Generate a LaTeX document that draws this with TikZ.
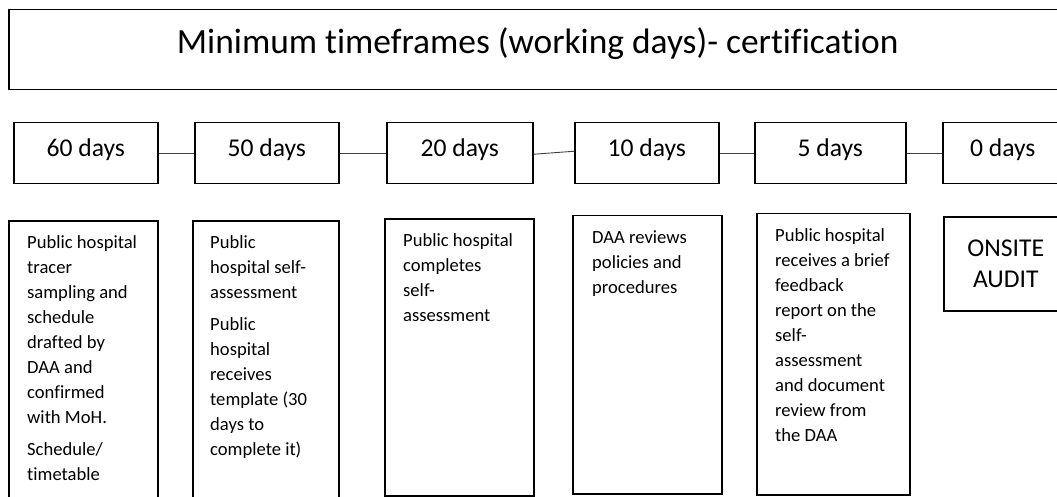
\documentclass[tikz,border=0pt]{standalone}
\usepackage{fontspec}
\setmainfont[Ligatures=NoCommon]{Carlito}
\begin{document}
\begin{tikzpicture}[x=1pt,y=-1pt,
  box/.style={draw=black, line width=1.5pt, rectangle, inner sep=0pt, anchor=north west},
  daybox/.style={box, minimum width=144pt, minimum height=61pt,
    font=\fontsize{25.6}{31}\selectfont, text height=17pt, text depth=10pt},
  textbox/.style={box},
  boxtext/.style={anchor=north west, inner sep=0pt, align=left,
    font=\fontsize{18.6}{25}\selectfont},
  conn/.style={draw=black!75, line width=0.9pt}
]
\useasboundingbox (0,0) rectangle (1057,497);
\clip (0,0) rectangle (1057,497);

% title
\node[box, minimum width=1058pt, minimum height=80pt,
  font=\fontsize{35.4}{40}\selectfont, text height=26pt, text depth=18pt]
  (title) at (8,9) {Minimum timeframes (working days)- certification};

% day boxes
\node[daybox] (d60) at (13,122) {60 days};
\node[daybox] (d50) at (194,122) {50 days};
\node[daybox, minimum width=146pt] (d20) at (386,122) {20 days};
\node[daybox] (d10) at (574,122) {10 days};
\node[daybox, minimum width=151pt] (d5) at (754,122) {5 days};
\node[daybox, minimum width=120pt] (d0) at (942,122) {0 days};

% connectors
\draw[conn] (d60.east) -- (d50.west);
\draw[conn] (d50.east) -- (d20.west);
\draw[conn] ([yshift=-1pt]d20.east) -- ([yshift=2pt]d10.west);
\draw[conn] (d10.east) -- (d5.west);
\draw[conn] (d5.east) -- (d0.west);

% description boxes
\node[textbox, minimum width=149pt, minimum height=300pt] (b1) at (8,220) {};
\node[textbox, minimum width=146pt, minimum height=300pt] (b2) at (192,220) {};
\node[textbox, minimum width=149pt, minimum height=277pt] (b3) at (384,218) {};
\node[textbox, minimum width=149pt, minimum height=278pt] (b4) at (572,215) {};
\node[textbox, minimum width=153pt, minimum height=281pt] (b5) at (756,213) {};
\node[textbox, minimum width=124pt, minimum height=94pt, align=center,
  font=\fontsize{25.6}{31}\selectfont] (b6) at (943,216) {ONSITE\\AUDIT};

\node[boxtext] (t1) at ([xshift=19pt,yshift=-10.5pt]b1.north west)
  {\strut Public hospital\\tracer\\sampling and\\schedule\\drafted by\\DAA and\\confirmed\\with MoH.\\[7pt]Schedule/\\timetable};
\node[boxtext] (t2) at ([xshift=18pt,yshift=-10.5pt]b2.north west)
  {\strut Public\\hospital self-\\assessment\\[7pt]Public\\hospital\\receives\\template (30\\days to\\complete it)};
\node[boxtext] (t3) at ([xshift=19pt,yshift=-10.5pt]b3.north west)
  {\strut Public hospital\\completes\\self-\\assessment};
\node[boxtext] (t4) at ([xshift=20pt,yshift=-10.5pt]b4.north west)
  {\strut DAA reviews\\policies and\\procedures};
\node[boxtext] (t5) at ([xshift=19pt,yshift=-10.5pt]b5.north west)
  {\strut Public hospital\\receives a brief\\feedback\\report on the\\self-\\assessment\\and document\\review from\\the DAA};
\end{tikzpicture}
\end{document}
